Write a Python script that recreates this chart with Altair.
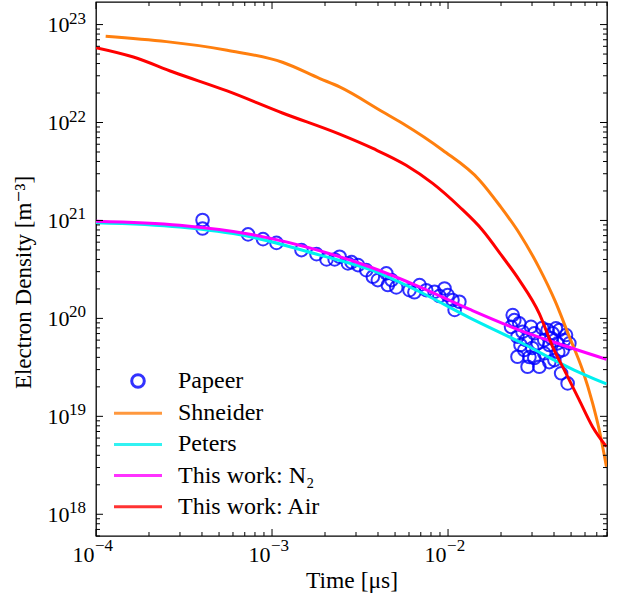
import altair as alt
import pandas as pd

FONT = "Liberation Serif, DejaVu Serif"

# Papeer measurements: time [μs] and electron density [m^-3]
papeer_t = [4.03e-4, 4.03e-4, 7.31e-4, 8.89e-4, 1.06e-3, 1.47e-3, 1.79e-3, 2.04e-3,
            2.27e-3, 2.42e-3, 2.70e-3, 2.83e-3, 3.08e-3, 3.43e-3, 3.74e-3, 3.99e-3,
            4.46e-3, 4.55e-3, 4.78e-3, 5.08e-3, 6.04e-3, 6.44e-3, 6.89e-3, 7.52e-3,
            8.38e-3, 8.93e-3, 9.55e-3, 9.95e-3, 1.06e-2, 1.09e-2, 1.16e-2,
            2.33e-2, 2.38e-2, 2.28e-2, 2.54e-2, 2.65e-2, 2.48e-2, 2.77e-2, 2.71e-2,
            2.96e-2, 3.09e-2, 3.23e-2, 2.83e-2, 3.30e-2, 3.52e-2, 3.68e-2, 3.93e-2,
            4.10e-2, 4.19e-2, 4.48e-2, 4.02e-2, 4.39e-2, 4.68e-2, 4.89e-2, 4.78e-2,
            2.48e-2, 3.01e-2, 3.52e-2, 3.76e-2, 4.29e-2, 4.57e-2, 2.90e-2,
            3.43e-2, 3.86e-2, 3.09e-2, 3.76e-2, 4.23e-2, 2.58e-2]
papeer_n = [1.01e21, 8.28e20, 7.2e20, 6.44e20, 5.9e20, 4.98e20, 4.53e20, 4.0e20,
            4.0e20, 4.26e20, 3.64e20, 3.75e20, 3.5e20, 3.11e20, 2.66e20, 2.46e20,
            2.88e20, 2.19e20, 2.46e20, 2.07e20, 1.94e20, 1.85e20, 2.19e20, 1.94e20,
            1.87e20, 1.69e20, 2.02e20, 1.73e20, 1.54e20, 1.22e20, 1.48e20,
            1.08e20, 9.6e19, 8.2e19, 8.89e19, 7.3e19, 6.49e19, 6.0e19, 4.75e19,
            8.2e19, 7.03e19, 5.56e19, 3.21e19, 3.21e19, 4.4e19, 7.6e19, 7.03e19,
            7.9e19, 5.56e19, 4.75e19, 3.75e19, 2.75e19, 6.76e19, 5.56e19, 2.17e19,
            4.06e19, 4.98e19, 6.0e19, 5.35e19, 7.6e19, 6.0e19, 4.03e19,
            7.96e19, 6.3e19, 3.94e19, 3.58e19, 4.53e19, 5.35e19]

# Model curves
shneider_t = [1.135e-4, 5.56e-4, 1.146e-3, 1.87e-3, 2.42e-3, 4.27e-3, 5.53e-3, 9.33e-3,
              1.51e-2, 1.96e-2, 2.54e-2, 3.30e-2, 4.06e-2, 4.89e-2, 5.81e-2,
              6.62e-2, 7.23e-2, 7.94e-2]
shneider_n = [7.6e22, 5.47e22, 4.12e22, 2.81e22, 2.31e22, 1.28e22, 9.77e21, 5.21e21,
              2.58e21, 1.43e21, 7.41e20, 3.26e20, 1.50e20, 6.49e19, 2.97e19,
              1.37e19, 7.25e18, 3.06e18]

peters_t = [1e-4, 2.99e-4, 7.2e-4, 1.87e-3, 3.58e-3, 6.89e-3, 1.32e-2, 2.54e-2, 5.21e-2, 7.94e-2]
peters_n = [9.46e20, 8.55e20, 6.92e20, 4.43e20, 3.16e20, 1.87e20, 1.02e20, 5.77e19, 2.97e19, 2.14e19]

n2_t = [1e-4, 2.99e-4, 7.2e-4, 1.99e-3, 3.58e-3, 6.89e-3, 1.32e-2, 2.54e-2, 3.93e-2, 7.94e-2]
n2_n = [9.84e20, 8.95e20, 7.33e20, 4.75e20, 3.37e20, 2.10e20, 1.24e20, 7.6e19, 5.77e19, 3.82e19]

air_t = [1e-4, 1.63e-4, 2.74e-4, 5.56e-4, 1.146e-3, 2.42e-3, 3.74e-3, 5.78e-3, 8.18e-3,
         1.16e-2, 1.57e-2, 2.04e-2, 2.54e-2, 3.30e-2, 3.93e-2, 4.68e-2, 5.56e-2, 6.62e-2, 7.94e-2]
air_n = [5.82e22, 4.67e22, 3.28e22, 2.10e22, 1.25e22, 7.60e21, 5.43e21, 3.66e21, 2.39e21,
         1.38e21, 7.96e20, 4.26e20, 2.46e20, 1.12e20, 5.13e19, 2.75e19, 1.47e19, 7.83e18, 4.90e18]

names = ["Papeer", "Shneider", "Peters", "This work: N₂", "This work: Air"]
colors = ["#0000ff", "#ff7f0e", "#00f0f0", "#ff00ff", "#ff0000"]

# legend/marker glyphs: open ring for measurements, short stroke for curves
ring = "M1.05,0A1.05,1.05,0,1,1,-1.05,0A1.05,1.05,0,1,1,1.05,0Z"
dash = "M-4,0L4,0"

# decade labels are drawn as a base "10" plus a raised exponent
x_major = [1e-4, 1e-3, 1e-2]
x_exp = ["−4", "−3", "−2"]
y_major = [1e18, 1e19, 1e20, 1e21, 1e22, 1e23]
y_exp = ["18", "19", "20", "21", "22", "23"]
x_minor = [k * 10.0 ** e for e in (-4, -3, -2) for k in range(2, 10) if k * 10.0 ** e <= 0.08]
y_minor = [k * 10.0 ** e for e in range(17, 23) for k in range(2, 10)
           if 6e17 <= k * 10.0 ** e <= 1.7e23]


def frame(t, n, name):
    return pd.DataFrame({"t": t, "n": n, "series": name})


W, H = 511, 534

xs = alt.Scale(type="log", domain=[1e-4, 0.08], nice=False)
ys = alt.Scale(type="log", domain=[6e17, 1.7e23], nice=False)

x_axis = alt.Axis(
    values=x_major, labelExpr="'10'", labelAlign="right", labelOffset=-2,
    title="Time [μs]", ticks=False, domain=False, grid=False,
    labelFont=FONT, labelFontSize=22, labelColor="black", labelPadding=8,
    labelFlush=False, labelOverlap=False,
    titleFont=FONT, titleFontSize=23.5, titleFontWeight="normal", titleColor="black",
    titlePadding=3,
)
y_axis = alt.Axis(
    values=y_major, labelExpr="'10'",
    title="Electron Density [m⁻³]", ticks=False, domain=False, grid=False,
    labelFont=FONT, labelFontSize=22, labelColor="black", labelPadding=27,
    labelFlush=False, labelOverlap=False,
    titleFont=FONT, titleFontSize=23, titleFontWeight="normal", titleColor="black",
    titlePadding=12, titleY=280,
)

X = alt.X("t:Q", scale=xs, axis=x_axis)
Y = alt.Y("n:Q", scale=ys, axis=y_axis)

legend = alt.Legend(
    title=None, orient="none", legendX=30, legendY=367, padding=0,
    labelFont=FONT, labelFontSize=24, labelColor="black", labelOffset=28,
    symbolSize=144, symbolStrokeWidth=3, rowPadding=7.2,
)
color_scale = alt.Scale(domain=names, range=colors)
shape_scale = alt.Scale(domain=names, range=[ring, dash, dash, dash, dash])
C = alt.Color("series:N", scale=color_scale, legend=legend)
S = alt.Shape("series:N", scale=shape_scale, legend=legend)

points = alt.Chart(frame(papeer_t, papeer_n, names[0])).mark_point(
    filled=False, size=144, strokeWidth=2, opacity=0.8
).encode(x=X, y=Y, color=C, shape=S)


def curve(t, n, name):
    return alt.Chart(frame(t, n, name)).mark_line(
        strokeWidth=3, clip=True, interpolate="monotone"
    ).encode(x=X, y=Y, color=C, order="t:Q")


lines = [
    curve(shneider_t, shneider_n, names[1]),
    curve(peters_t, peters_n, names[2]),
    curve(n2_t, n2_n, names[3]),
    curve(air_t, air_n, names[4]),
]


def xticks(vals, length):
    base = alt.Chart(pd.DataFrame({"t": vals})).mark_rule(color="black", strokeWidth=1)
    return [
        base.encode(x=X, y=alt.value(H), y2=alt.value(H - length)),
        base.encode(x=X, y=alt.value(0), y2=alt.value(length)),
    ]


def yticks(vals, length):
    base = alt.Chart(pd.DataFrame({"n": vals})).mark_rule(color="black", strokeWidth=1)
    return [
        base.encode(y=Y, x=alt.value(0), x2=alt.value(length)),
        base.encode(y=Y, x=alt.value(W), x2=alt.value(W - length)),
    ]


ticks = xticks(x_major, 7) + xticks(x_minor, 4) + yticks(y_major, 7) + yticks(y_minor, 4)

exp_style = dict(font=FONT, fontSize=17, color="black", align="left", baseline="alphabetic")
x_exps = alt.Chart(pd.DataFrame({"t": x_major, "e": x_exp})).mark_text(
    dx=-1, **exp_style
).encode(x=X, y=alt.value(H + 15), text="e:N")
y_exps = alt.Chart(pd.DataFrame({"n": y_major, "e": y_exp})).mark_text(
    dy=-1, **exp_style
).encode(y=Y, x=alt.value(-27), text="e:N")

chart = alt.layer(points, *lines, *ticks, x_exps, y_exps).properties(
    width=W, height=H,
    autosize=alt.AutoSizeParams(type="none"),
    padding={"left": 96, "top": 2, "right": 20, "bottom": 67},
    background="white",
).configure(font=FONT).configure_view(stroke="black", strokeWidth=1.3)

chart.save("out.html", embed_options={"renderer": "svg", "actions": False})
